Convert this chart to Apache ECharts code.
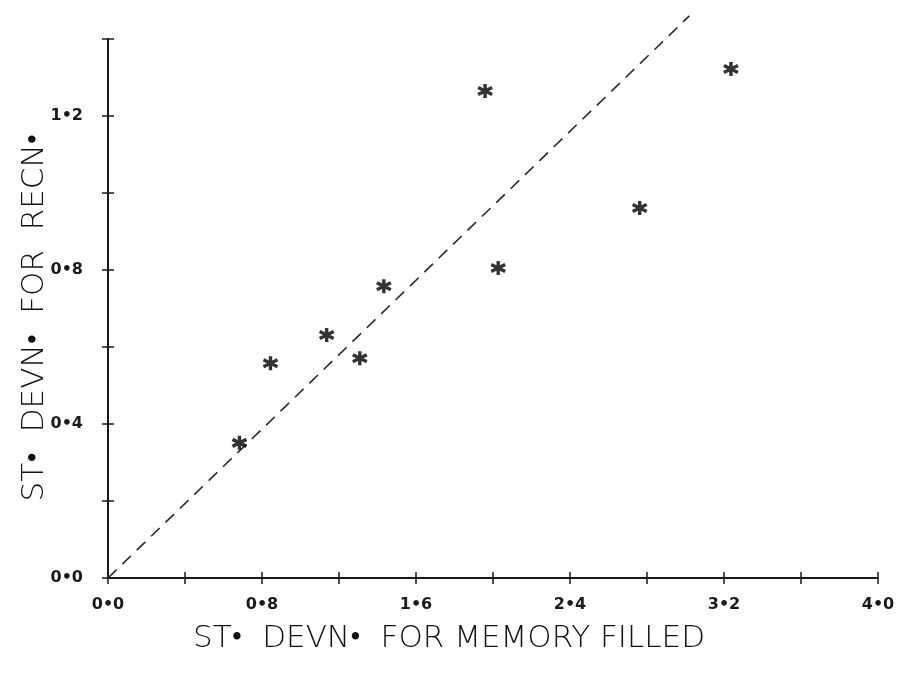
<!DOCTYPE html>
<html>
<head>
<meta charset="utf-8">
<script src="https://cdn.jsdelivr.net/npm/echarts@6/dist/echarts.min.js"></script>
<style>
  html, body { margin: 0; padding: 0; background: #fff; }
  #chart { width: 898px; height: 676px; }
</style>
</head>
<body>
<div id="chart"></div>
<script>
// Standard deviations: memory-filled (x) against reconstruction (y)
const memoryFilled = [0.683, 0.844, 1.136, 1.308, 1.433, 1.959, 2.027, 2.762, 3.236];
const reconstruction = [0.351, 0.558, 0.631, 0.571, 0.758, 1.265, 0.805, 0.961, 1.322];

// Dashed reference line through the origin
const refLineX = [0, 3.02];
const refLineY = [0, 1.46];

const xTickLabels = ['0•0', '0•8', '1•6', '2•4', '3•2', '4•0'];
const yTickLabels = ['0•0', '0•4', '0•8', '1•2'];

const xName = 'ST•  DEVN•  FOR MEMORY FILLED';
const yName = 'ST•  DEVN•  FOR  RECN•';

const ink = '#1a1a1a';
const font = 'DejaVu Sans';

function fmt(labels, step) {
  return function (v) {
    const i = Math.round(v / step);
    if (Math.abs(v - i * step) > 1e-6) return '';
    return labels[i] || '';
  };
}

const asterisk = 'path://M0,-7L0,7M-6.06,-3.5L6.06,3.5M-6.06,3.5L6.06,-3.5';

const chart = echarts.init(document.getElementById('chart'), null, { renderer: 'canvas' });

const tickStyle = { color: ink, width: 1.5 };

chart.setOption({
  backgroundColor: '#fff',
  animation: false,
  grid: { left: 108, right: 20, top: 39, bottom: 98 },
  xAxis: [
    {
      type: 'value', min: 0, max: 4.0, interval: 0.4,
      axisLine: { show: true, lineStyle: { color: ink, width: 2 } },
      axisTick: { show: true, length: 6, lineStyle: tickStyle },
      splitLine: { show: false },
      axisLabel: {
        formatter: fmt(xTickLabels, 0.8), color: ink, fontFamily: font,
        fontSize: 16, fontWeight: 'bold', margin: 19,
        showMinLabel: true, showMaxLabel: true
      },
      name: xName, nameLocation: 'middle', nameGap: 45,
      nameTextStyle: {
        color: '#111', fontFamily: font, fontSize: 31, fontWeight: 200,
        padding: [0, 88, 0, 0]
      }
    },
    {
      type: 'value', min: 0, max: 4.0, interval: 0.4, position: 'bottom',
      axisLine: { show: false },
      axisTick: { show: true, inside: true, length: 6, lineStyle: tickStyle },
      axisLabel: { show: false }, splitLine: { show: false }
    }
  ],
  yAxis: [
    {
      type: 'value', min: 0, max: 1.4, interval: 0.2,
      axisLine: { show: true, lineStyle: { color: ink, width: 2 } },
      axisTick: { show: true, length: 6, lineStyle: tickStyle },
      splitLine: { show: false },
      axisLabel: {
        formatter: fmt(yTickLabels, 0.4), color: ink, fontFamily: font,
        fontSize: 16, fontWeight: 'bold', margin: 25, showMaxLabel: true
      },
      name: yName, nameLocation: 'middle', nameGap: 58, nameRotate: 90,
      nameMoveOverlap: false,
      nameTextStyle: {
        color: '#111', fontFamily: font, fontSize: 31, fontWeight: 200,
        padding: [0, 18, 0, 0]
      }
    },
    {
      type: 'value', min: 0, max: 1.4, interval: 0.2, position: 'left',
      axisLine: { show: false },
      axisTick: { show: true, inside: true, length: 6, lineStyle: tickStyle },
      axisLabel: { show: false }, splitLine: { show: false }
    }
  ],
  series: [
    {
      type: 'line',
      data: refLineX.map((x, i) => [x, refLineY[i]]),
      symbol: 'none',
      clip: false,
      lineStyle: { color: '#2a2a2a', width: 1.6, type: [12, 8] },
      z: 1
    },
    {
      type: 'scatter',
      data: memoryFilled.map((x, i) => [x, reconstruction[i]]),
      symbol: asterisk,
      symbolSize: 14,
      itemStyle: { color: 'rgba(0,0,0,0)', borderColor: '#000', borderWidth: 3.4 },
      z: 3
    }
  ]
});
</script>
</body>
</html>
